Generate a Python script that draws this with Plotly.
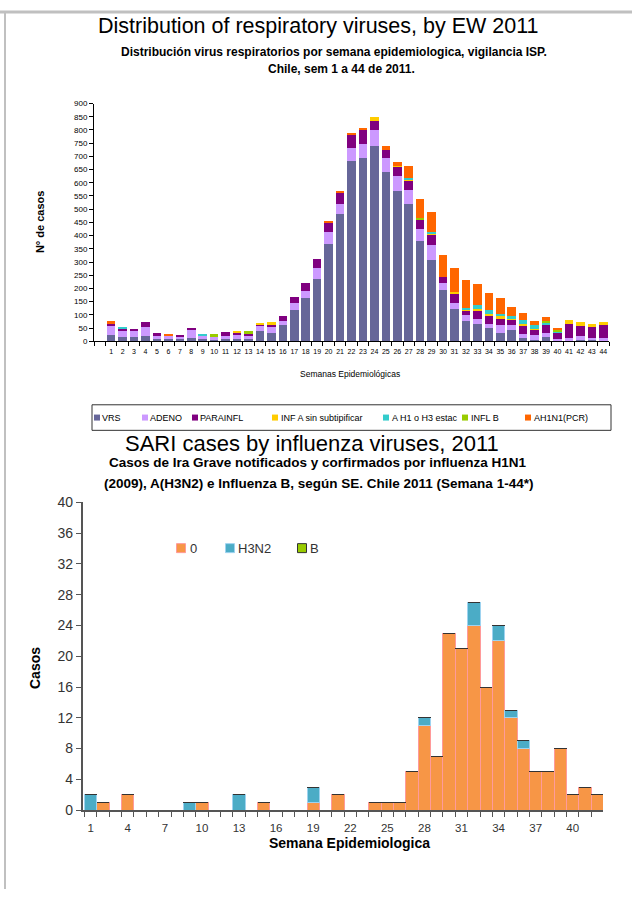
import plotly.graph_objects as go

W, H = 632, 897
def px(x): return x / W
def py(y): return 1 - y / H

FONT = "Liberation Sans, Arial, sans-serif"

# ---------------- Top chart data ----------------
weeks = list(range(1, 45))
week_labels = [str(w) for w in weeks]
vrs = [25,16,16,20,10,10,9,12,10,10,12,9,9,37,32,62,118,162,236,367,480,683,692,738,641,569,518,378,307,193,121,78,66,50,32,41,12,6,15,5,5,5,7,6]
adeno = [35,21,24,33,10,9,10,30,9,7,7,17,10,20,24,16,28,30,42,45,41,50,53,62,54,58,53,46,59,28,25,21,18,17,28,21,16,18,17,4,7,15,5,6]
parainfl = [7,8,8,18,13,0,5,8,0,0,16,7,8,9,7,19,20,29,33,38,39,47,56,34,30,35,39,37,39,23,35,20,33,33,29,22,32,21,34,24,54,38,43,50]
infa = [0,0,0,0,0,0,0,0,0,0,0,4,0,3,9,0,0,0,0,0,0,0,0,14,0,3,3,3,3,0,7,3,7,4,5,4,7,3,0,0,13,14,11,10]
ah1h3 = [0,8,0,0,0,0,0,0,8,0,0,0,0,0,0,0,0,0,0,0,0,0,0,0,0,0,4,0,5,0,0,4,14,14,9,7,12,15,5,4,0,0,0,0]
inflb = [0,0,0,0,0,0,0,0,0,10,0,0,10,0,0,0,0,0,0,0,0,0,0,0,0,0,0,3,0,0,0,0,0,0,0,0,0,0,6,4,0,0,0,0]
ah1n1 = [8,0,0,0,0,8,0,0,0,0,0,0,0,0,0,0,0,0,0,5,8,8,8,0,16,13,45,72,75,84,88,106,80,65,61,35,29,12,15,9,0,0,0,0]

top_names = ["VRS", "ADENO", "PARAINFL", "INF A sin subtipificar", "A H1 o H3 estac", "INFL B", "AH1N1(PCR)"]
top_values = [vrs, adeno, parainfl, infa, ah1h3, inflb, ah1n1]
top_colors = ["#666699", "#CC99FF", "#800080", "#FFCC00", "#33CCCC", "#99CC00", "#FF6600"]
top_legend_symbol_x = [97, 145, 195, 275, 386, 465, 528]
top_legend_text_x = [102, 150, 200, 281, 392, 471, 534]

# ---------------- Bottom chart data ----------------
weeks2 = list(range(1, 43))
h1n1_2009 = [0,1,0,2,0,0,0,0,0,1,0,0,0,0,1,0,0,0,1,0,2,0,0,1,1,1,5,11,7,23,21,24,16,22,12,8,5,5,8,2,3,2]
h3n2 = [2,0,0,0,0,0,0,0,1,0,0,0,2,0,0,0,0,0,2,0,0,0,0,0,0,0,0,1,0,0,0,3,0,2,1,1,0,0,0,0,0,0]
flu_b = [0]*42
bottom_names = ["0", "H3N2", "B"]
bottom_values = [h1n1_2009, h3n2, flu_b]
bottom_colors = ["#F79646", "#4BACC6", "#99CC00"]
bottom_lines = ["#FF9A9A", "#9ED3F0", "#333333"]
bottom_legend_symbol_x = [181, 230, 302]
bottom_legend_text_x = [190, 238, 310]
bottom_ticks = list(range(1, 41, 3))

fig = go.Figure()
legends = {}
lg_n = [3]

def add_legend_entry(name, sym_x, text_x, y, marker, font):
    # text part
    lg = "legend%d" % lg_n[0]; lg_n[0] += 1
    fig.add_trace(go.Scatter(x=[None], y=[None], mode="markers", name=name, legend=lg,
                             marker=dict(size=1, color="rgba(0,0,0,0)"), hoverinfo="skip"))
    legends[lg] = dict(x=px(text_x - 40), y=py(y), xanchor="left", yanchor="middle",
                       bgcolor="rgba(0,0,0,0)", borderwidth=0, font=font, itemwidth=30)
    # swatch part
    lg = "legend%d" % lg_n[0]; lg_n[0] += 1
    fig.add_trace(go.Scatter(x=[None], y=[None], mode="markers", name=" ", legend=lg,
                             marker=marker, hoverinfo="skip"))
    legends[lg] = dict(x=px(sym_x - 20), y=py(y), xanchor="left", yanchor="middle",
                       bgcolor="rgba(0,0,0,0)", borderwidth=0, font=font, itemwidth=30)

for i, (name, vals, col) in enumerate(zip(top_names, top_values, top_colors)):
    fig.add_trace(go.Bar(x=weeks, y=vals, name=name, marker=dict(color=col, line=dict(width=0)),
                         width=0.74, xaxis="x", yaxis="y", showlegend=False))
    add_legend_entry(name, top_legend_symbol_x[i], top_legend_text_x[i], 417,
                     dict(symbol="square", size=6, color=col),
                     dict(size=9, color="black", family=FONT))

for i, (name, vals, col, lc) in enumerate(zip(bottom_names, bottom_values, bottom_colors, bottom_lines)):
    fig.add_trace(go.Bar(x=weeks2, y=vals, name=name, marker=dict(color=col, line=dict(width=1, color=lc)),
                         width=1.0, xaxis="x2", yaxis="y2", showlegend=False))
    add_legend_entry(name, bottom_legend_symbol_x[i], bottom_legend_text_x[i], 550,
                     dict(symbol="square", size=9, color=col, line=dict(width=1, color=lc)),
                     dict(size=13, color="#333", family=FONT))

ann = []
def A(text, x, y, size, bold=False, angle=0, color="black"):
    ann.append(dict(text=("<b>%s</b>" % text) if bold else text, x=px(x), y=py(y), xref="paper", yref="paper",
                    showarrow=False, xanchor="center", yanchor="middle", textangle=angle,
                    font=dict(size=size, color=color, family=FONT)))

A("Distribution of respiratory viruses, by EW 2011", 318, 18, 21.5)
A("Distribución virus respiratorios por semana epidemiologica, vigilancia ISP.", 334, 45, 12, bold=True)
A("Chile, sem 1 a 44 de 2011.", 341, 62, 12, bold=True)
A("N° de casos", 40, 218, 11, bold=True, angle=-90)
A("Semanas Epidemiológicas", 350, 373, 8.5)
A("SARI cases by influenza viruses, 2011", 312, 443, 22)
A("Casos de Ira Grave notificados y corfirmados por influenza H1N1", 318, 463, 13.5, bold=True)
A("(2009), A(H3N2) e Influenza B, según SE. Chile 2011 (Semana 1-44*)", 318, 484, 13.5, bold=True)
A("Casos", 35, 672, 14, bold=True, angle=-90)
A("Semana Epidemiologica", 350, 850, 14, bold=True)

fig.update_layout(
    width=W, height=H, margin=dict(l=0, r=0, t=0, b=0, pad=0),
    paper_bgcolor="white", plot_bgcolor="white",
    font=dict(family=FONT, color="black"),
    barmode="stack",
    xaxis=dict(domain=[px(94), px(609)], range=[-0.5, 44.5], anchor="y",
               tickmode="array", tickvals=weeks, ticktext=week_labels, ticks="",
               tickfont=dict(size=7), ticklabelstandoff=3,
               showline=True, linecolor="black", linewidth=1,
               showgrid=False, zeroline=False,
               minor=dict(ticks="outside", ticklen=4, tick0=0.5, dtick=1, tickcolor="black", showgrid=False)),
    yaxis=dict(domain=[py(339.3), py(97.3)], range=[0, 900], dtick=50, anchor="x",
               ticks="outside", ticklen=4, tickcolor="black", tickfont=dict(size=8),
               showline=True, linecolor="black", linewidth=1, showgrid=False, zeroline=False),
    xaxis2=dict(domain=[px(82.7), px(603)], range=[0.35, 42.45], anchor="y2",
                tickmode="array", tickvals=bottom_ticks, ticktext=[str(t) for t in bottom_ticks], ticks="",
                tickfont=dict(size=11.5, color="#333"), ticklabelstandoff=6,
                showline=True, linecolor="#555", linewidth=1.5,
                showgrid=False, zeroline=False,
                minor=dict(ticks="outside", ticklen=5, tick0=0.5, dtick=1, tickcolor="#555", showgrid=False)),
    yaxis2=dict(domain=[py(816.7), py(503.3)], range=[0, 40], dtick=4, anchor="x2",
                ticks="outside", ticklen=5, tickcolor="#555", tickfont=dict(size=14, color="#333"),
                showline=True, linecolor="#555", linewidth=1.5, showgrid=False, zeroline=False),
    annotations=ann,
    shapes=[
        dict(type="line", xref="paper", yref="paper", x0=0, x1=1, y0=py(4), y1=py(4),
             line=dict(color="#C0C0C0", width=3)),
        dict(type="line", xref="paper", yref="paper", x0=px(5), x1=px(5), y0=py(4), y1=0,
             line=dict(color="#C0C0C0", width=2)),
        dict(type="rect", xref="paper", yref="paper", x0=px(92), x1=px(611), y0=py(430), y1=py(404),
             line=dict(color="#333", width=1), fillcolor="rgba(0,0,0,0)"),
    ],
    **legends,
)

fig.write_html("out.html")
